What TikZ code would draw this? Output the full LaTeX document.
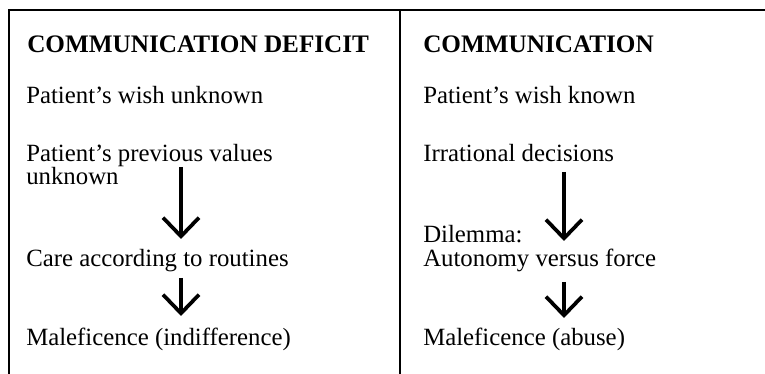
\documentclass[tikz,border=0pt]{standalone}
\usepackage{fontspec}
\setmainfont{Liberation Serif}
\usetikzlibrary{arrows.meta}
\begin{document}
\begin{tikzpicture}[x=0.75pt,y=-0.75pt,
  txt/.style={anchor=base west,inner sep=0pt,font=\fontsize{18.6}{22}\selectfont},
  head/.style={txt,font=\fontsize{18.9}{22}\selectfont\bfseries},
  rule/.style={line width=1.2pt},
  flow/.style={line width=2.6pt,-{Straight Barb[length=14pt,width=27pt,line width=2.8pt]}}]
\useasboundingbox (0,0) rectangle (765,374);
% frame
\coordinate (tl) at (8,10);
\coordinate (tr) at (765,10);
\coordinate (lt) at (9,10);
\coordinate (bl) at (9,374);
\coordinate (tm) at (400,10);
\coordinate (bm) at (400,374);
\draw[rule] (tl) -- (tr);
\draw[rule] (lt) -- (bl);
\draw[line width=0.9pt] (tm) -- (bm);
% left column
\node[head] (lh) at (27,53) {COMMUNICATION DEFICIT};
\node[txt] (l1) at (26,104) {Patient’s wish unknown};
\node[txt] (l2) at (26,162) {Patient’s previous values};
\node[txt] (l2b) at (26,185) {unknown};
\node[txt] (l3) at (26,267) {Care according to routines};
\node[txt] (l4) at (26,345) {Maleficence (indifference)};
% right column
\node[head] (rh) at (423,53) {COMMUNICATION};
\node[txt] (r1) at (423,104) {Patient’s wish known};
\node[txt] (r2) at (423,162) {Irrational decisions};
\node[txt] (r3a) at (423,243) {Dilemma:};
\node[txt] (r3) at (423,267) {Autonomy versus force};
\node[txt] (r4) at (423,345) {Maleficence (abuse)};
% arrows
\coordinate (la1) at (181,167);
\coordinate (la1e) at (181,239);
\coordinate (la2) at (181,278);
\coordinate (la2e) at (181,316);
\coordinate (ra1) at (564,172);
\coordinate (ra1e) at (564,241);
\coordinate (ra2) at (564,282);
\coordinate (ra2e) at (564,318);
\draw[flow] (la1) -- (la1e);
\draw[flow] (la2) -- (la2e);
\draw[flow] (ra1) -- (ra1e);
\draw[flow] (ra2) -- (ra2e);
\end{tikzpicture}
\end{document}
